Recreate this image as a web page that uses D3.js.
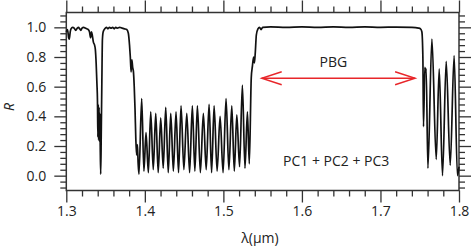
<!DOCTYPE html>
<html><head><meta charset="utf-8">
<script src="https://cdn.jsdelivr.net/npm/d3@7"></script>
<style>body{margin:0;background:#fff}svg{display:block}text{font-family:"Open Sans","Noto Sans",sans-serif;fill:#222}</style>
</head><body><svg id="c" width="472" height="246"></svg>
<script>
// Wavelength (µm) and reflectance R
const lambda = [
1.300,1.3015,1.3030,1.3038,1.3050,1.3060,1.3080,1.3100,1.3120,1.3140,1.3155,1.3170,1.3185,1.3200,1.3220,1.3240,1.3260,1.3280,1.3295,1.3310,1.3320,1.3330,1.3345,1.3360,1.3370,1.3380,1.3390,1.3397,1.3402,1.3407,1.3412,1.3417,1.3422,1.3427,1.3432,1.3438,1.3445,1.3452,1.3460,1.3470,1.3490,1.3510,1.3530,1.3550,1.3570,1.3590,1.3610,1.3630,1.3650,1.3680,1.3710,1.3740,1.3770,1.3790,1.3805,1.3815,1.3825,1.3835,1.3845,1.3855,1.3865,1.3875,1.3885,1.3895,1.3905,1.3915,1.3925,
1.3960,1.3988,1.4015,1.4045,1.4075,1.4107,1.4139,1.4170,1.4202,1.4234,1.4266,1.4298,1.4330,1.4363,1.4397,1.4429,1.4461,1.4497,1.4534,1.4570,1.4605,1.4637,1.4669,1.4707,1.4745,1.4781,1.4818,1.4850,1.4882,1.4920,1.4958,1.4996,1.5034,1.5070,1.5107,1.5139,1.5171,1.5206,1.5242,1.5275,1.5306,1.5330,
1.5355,1.5370,1.5385,1.5395,1.5405,1.5420,1.5440,1.5460,1.5480,1.5500,1.5600,1.5800,1.6000,1.6200,1.6400,1.6600,1.6800,1.7000,1.7200,1.7400,1.7485,1.7510,1.7527,1.7540,1.7548,1.7565,1.7575,1.7582,1.7604,1.7655,1.7710,1.7748,1.7790,1.7837,1.7888,1.7938,1.7980,1.8000];
const reflectance = [
0.97,0.985,0.93,0.92,0.97,0.99,1.00,0.995,0.98,0.995,1.00,0.99,0.98,0.995,1.00,0.995,0.99,0.985,0.97,0.93,0.97,0.95,0.90,0.88,0.85,0.76,0.62,0.50,0.26,0.48,0.24,0.46,0.23,0.42,0.20,0.01,0.28,0.60,0.92,0.97,0.99,1.00,0.99,1.00,0.995,1.00,0.99,1.00,0.995,1.00,0.995,0.99,0.985,0.96,0.88,0.80,0.70,0.78,0.73,0.70,0.60,0.45,0.25,0.14,0.21,0.08,0.01,
0.52,0.03,0.29,0.02,0.43,0.04,0.42,0.02,0.39,0.05,0.46,0.02,0.42,0.03,0.43,0.02,0.47,0.04,0.42,0.02,0.47,0.03,0.47,0.02,0.42,0.04,0.48,0.02,0.47,0.03,0.40,0.02,0.52,0.04,0.47,0.03,0.41,0.06,0.61,0.05,0.43,0.08,
0.66,0.74,0.80,0.76,0.82,0.95,0.99,1.00,0.985,1.00,1.003,1.00,1.003,1.00,1.003,1.00,1.003,1.00,1.002,1.00,0.995,0.99,0.97,0.80,0.33,0.73,0.70,0.72,0.05,0.92,0.11,0.72,0.00,0.77,0.07,0.81,0.00,0.06];

const xMajor = [1.3,1.4,1.5,1.6,1.7,1.8];
const xTickLabels = ["1.3","1.4","1.5","1.6","1.7","1.8"];
const yMajor = [0.0,0.2,0.4,0.6,0.8,1.0];
const yTickLabels = ["0.0","0.2","0.4","0.6","0.8","1.0"];
const xLabel = "λ(μm)", yLabel = "R";
const gapLabel = "PBG", structLabel = "PC1 + PC2 + PC3";
const gapRange = [1.5488, 1.7441];
const gapArrowR = 0.657;

const svg = d3.select("#c");
const L = 66.3, Rt = 459, T = 12.5, B = 190.5;
const x = d3.scaleLinear().domain([1.3,1.8]).range([L,Rt]);
const y = d3.scaleLinear().domain([-0.1,1.1]).range([B,T]);
const xMinor = d3.range(1.3,1.8001,0.02).map(v=>+v.toFixed(3)).filter(v=>!xMajor.some(m=>Math.abs(m-v)<1e-6));
const yMinor = d3.range(-0.08,1.0801,0.04).map(v=>+v.toFixed(3)).filter(v=>!yMajor.some(m=>Math.abs(m-v)<1e-6));
const axCol = "#333";

function axisG(axisFn, scale, vals, len, tx, ty, fmt){
  const g = svg.append("g").attr("transform",`translate(${tx},${ty})`)
    .call(axisFn(scale).tickValues(vals).tickSize(len).tickFormat(fmt||""));
  g.select(".domain").remove();
  g.selectAll(".tick line").attr("stroke",axCol).attr("stroke-width",1.3);
  return g;
}
// bottom
const gb = axisG(d3.axisBottom, x, xMajor, 12, 0, B, (d,i)=>xTickLabels[i]);
gb.selectAll("text").attr("font-size",14).attr("dy","0.75em").attr("y",15).attr("fill","#222");
axisG(d3.axisBottom, x, xMinor, 6, 0, B);
// top
axisG(d3.axisTop, x, xMajor, 12, 0, T);
axisG(d3.axisTop, x, xMinor, 6, 0, T);
// left
const gl = axisG(d3.axisLeft, y, yMajor, 12, L, 0, (d,i)=>yTickLabels[i]);
gl.selectAll("text").attr("font-size",14).attr("x",-20).attr("fill","#222");
axisG(d3.axisLeft, y, yMinor, 6, L, 0);
// right
axisG(d3.axisRight, y, yMajor, 12, Rt, 0);
axisG(d3.axisRight, y, yMinor, 6, Rt, 0);
svg.selectAll(".tick text").attr("font-family","'Open Sans','Noto Sans',sans-serif");

// frame
svg.append("rect").attr("x",L).attr("y",T).attr("width",Rt-L).attr("height",B-T)
  .attr("fill","none").attr("stroke",axCol).attr("stroke-width",1.5);

// curve
const pts = lambda.map((l,i)=>[l,reflectance[i]]);
svg.append("path").datum(pts)
  .attr("d", d3.line().x(d=>x(d[0])).y(d=>y(d[1])).curve(d3.curveMonotoneX))
  .attr("fill","none").attr("stroke","#111").attr("stroke-width",1.7).attr("stroke-linejoin","round");

// PBG arrow
const red = "#e8262a";
const ay = y(gapArrowR), ax0 = x(gapRange[0]), ax1 = x(gapRange[1]);
svg.append("line").attr("x1",ax0).attr("x2",ax1).attr("y1",ay).attr("y2",ay).attr("stroke",red).attr("stroke-width",1.4);
svg.append("path").attr("d",`M${ax0+20},${ay-6.5}L${ax0},${ay}L${ax0+20},${ay+6.5}`).attr("fill","none").attr("stroke",red).attr("stroke-width",1.4);
svg.append("path").attr("d",`M${ax1-20},${ay-6.5}L${ax1},${ay}L${ax1-20},${ay+6.5}`).attr("fill","none").attr("stroke",red).attr("stroke-width",1.4);
svg.append("text").attr("x",(ax0+ax1)/2-5).attr("y",y(0.73)).attr("text-anchor","middle").attr("font-size",14).text(gapLabel);
svg.append("text").attr("x",x(1.6436)).attr("y",y(0.065)).attr("text-anchor","middle").attr("font-size",14).text(structLabel);

// axis titles
svg.append("text").attr("x",260).attr("y",243).attr("text-anchor","middle").attr("font-size",14).text(xLabel);
svg.append("text").attr("transform","translate(14,107) rotate(-90)").attr("text-anchor","middle")
  .attr("font-size",14).attr("font-style","italic").text(yLabel);
</script></body></html>
